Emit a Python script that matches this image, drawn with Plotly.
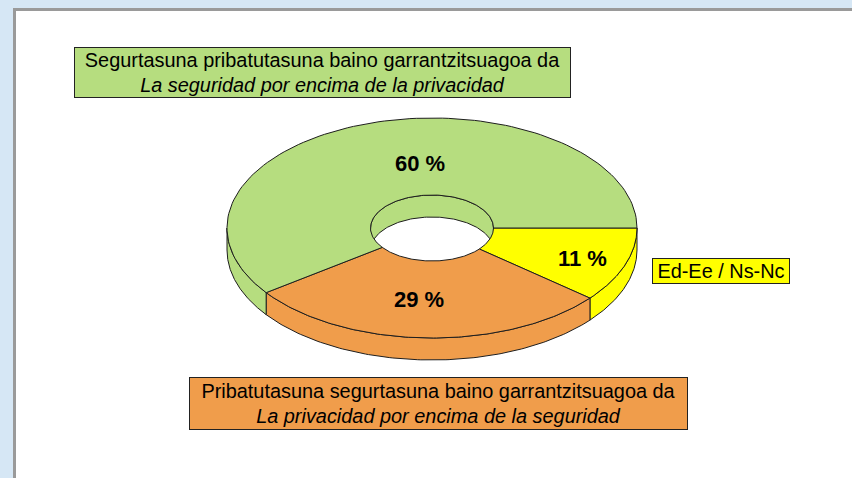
import numpy as np
import plotly.graph_objects as go

# ---------------- data ----------------
categories = [
    "Ed-Ee / Ns-Nc",
    "Pribatutasuna segurtasuna baino garrantzitsuagoa da",
    "Segurtasuna pribatutasuna baino garrantzitsuagoa da",
]
subtitles = [
    "",
    "La privacidad por encima de la seguridad",
    "La seguridad por encima de la privacidad",
]
values = [11, 29, 60]
label_texts = ["11 %", "29 %", "60 %"]

# ---------------- style ----------------
colors = ["#ffff00", "#f09d4b", "#b6dd7f"]
bg_blue = "#d6e7f5"
edge = "#1e1e1e"
FONT = "Liberation Sans, Arial, sans-serif"

CX, CY = 432, 228          # centre of the top face
RX, RY = 205, 110          # outer radii of the tilted ellipse
RXI, RYI = 61.5, 33        # hole radii
DEPTH = 22                 # thickness of the 3D ring
START = 0.0                # first slice starts at 3 o'clock, clockwise

label_pos = [(582, 258), (419, 299), (420, 163)]
box_pos = [  # centre x, centre y, width, height
    (721, 270.5, 136, 24),
    (438, 403, 497, 51),
    (322, 72, 495, 49),
]


def arc(rx, ry, a, b, dy=0.0, n=120):
    t = np.radians(np.linspace(a, b, n))
    return CX + rx * np.cos(t), CY + dy + ry * np.sin(t)


total = float(sum(values))
bounds = [START]
for v in values:
    bounds.append(bounds[-1] + 360.0 * v / total)

fig = go.Figure()


def poly(xs, ys, color):
    fig.add_trace(go.Scatter(
        x=np.append(xs, xs[0]), y=np.append(ys, ys[0]),
        mode="lines", fill="toself", fillcolor=color,
        line=dict(color=edge, width=1), hoverinfo="skip", showlegend=False,
    ))


# inner wall of the hole (back half is visible)
for i in range(len(values)):
    t1, t2 = bounds[i], bounds[i + 1]
    a, b = max(t1, 180.0), min(t2, 360.0)
    if a < b:
        x1, y1 = arc(RXI, RYI, a, b)
        x2, y2 = arc(RXI, RYI, b, a, dy=DEPTH)
        poly(np.concatenate([x1, x2]), np.concatenate([y1, y2]), colors[i])

# outer wall (front half is visible)
for i in range(len(values)):
    t1, t2 = bounds[i], bounds[i + 1]
    a, b = max(t1, 0.0), min(t2, 180.0)
    if a < b:
        x1, y1 = arc(RX, RY, a, b)
        x2, y2 = arc(RX, RY, b, a, dy=DEPTH)
        poly(np.concatenate([x1, x2]), np.concatenate([y1, y2]), colors[i])

# top faces
for i in range(len(values)):
    t1, t2 = bounds[i], bounds[i + 1]
    x1, y1 = arc(RX, RY, t1, t2)
    x2, y2 = arc(RXI, RYI, t2, t1)
    poly(np.concatenate([x1, x2]), np.concatenate([y1, y2]), colors[i])

annotations = []
for txt, (lx, ly) in zip(label_texts, label_pos):
    annotations.append(dict(
        x=lx, y=ly, xref="x", yref="y", text="<b>%s</b>" % txt,
        showarrow=False, font=dict(family=FONT, size=22, color="#000000"),
    ))

for cat, sub, col, (bx, by, bw, bh) in zip(categories, subtitles, colors, box_pos):
    text = cat if not sub else "%s<br><i>%s</i>" % (cat, sub)
    annotations.append(dict(
        x=bx, y=by, xref="x", yref="y", text=text, showarrow=False,
        font=dict(family=FONT, size=19.9, color="#000000"),
        bgcolor=col, bordercolor="#222222", borderwidth=1, borderpad=0,
        width=bw, height=bh, align="center", valign="middle",
    ))

fig.update_layout(
    width=852, height=478,
    margin=dict(l=0, r=0, t=0, b=0),
    paper_bgcolor=bg_blue, plot_bgcolor=bg_blue,
    xaxis=dict(range=[0, 852], visible=False, fixedrange=True),
    yaxis=dict(range=[478, 0], visible=False, fixedrange=True),
    showlegend=False,
    annotations=annotations,
    shapes=[dict(
        type="rect", xref="x", yref="y", x0=14.5, y0=9.5, x1=900, y1=520,
        fillcolor="#ffffff", line=dict(color="#9a9a9a", width=3), layer="below",
    )],
)

fig.write_html(
    "out.html",
    config={"displayModeBar": False},
    post_script="document.body.style.margin='0px';document.body.style.overflow='hidden';",
)
